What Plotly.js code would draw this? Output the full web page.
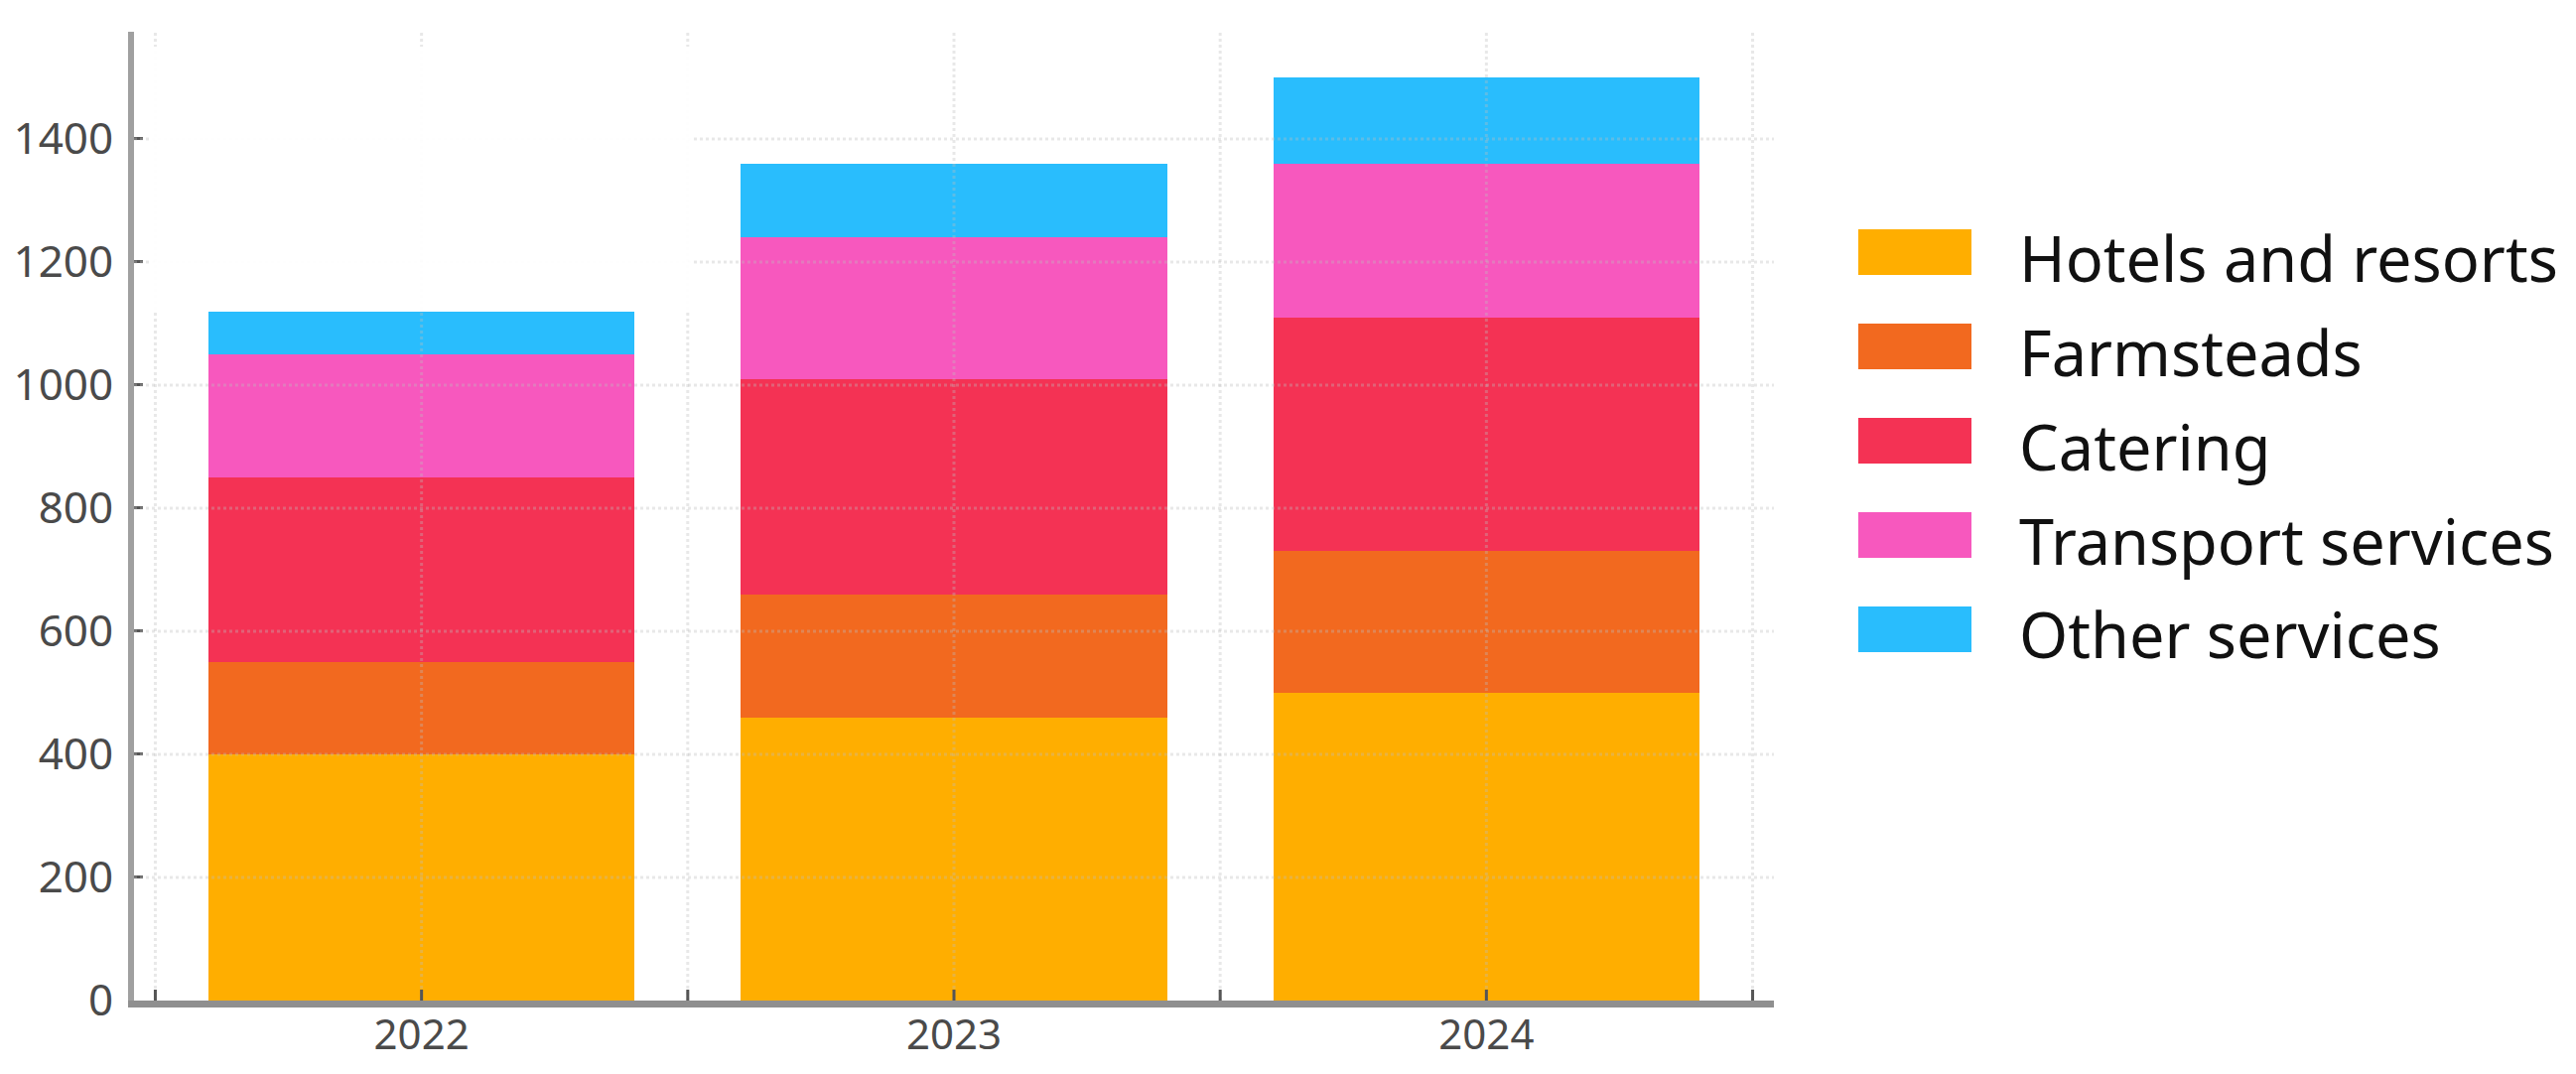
<!DOCTYPE html>
<html>
<head>
<meta charset="utf-8">
<script src="https://cdn.plot.ly/plotly-3.0.1.min.js"></script>
<style>
html,body{margin:0;padding:0;background:#fff;}
#chart{width:2595px;height:1082px;}
</style>
</head>
<body>
<div id="chart"></div>
<script>
// ---- data ----
const years = ['2022', '2023', '2024'];
const seriesNames = ['Hotels and resorts', 'Farmsteads', 'Catering', 'Transport services', 'Other services'];
const hotels = [400, 460, 500];
const farmsteads = [150, 200, 230];
const catering = [300, 350, 380];
const transport = [200, 230, 250];
const other = [70, 120, 140];
const seriesColors = ['#FFAE00', '#F2691F', '#F43254', '#F758BE', '#29BDFD'];
const yTicks = [0, 200, 400, 600, 800, 1000, 1200, 1400];

const seriesValues = [hotels, farmsteads, catering, transport, other];

// ---- geometry (pixels) ----
const W = 2595, H = 1082;
const L = 135, R = 1787, T = 32, B = 1008;
const pw = R - L, ph = B - T;
const px2paperX = x => (x - L) / pw;
const px2paperY = y => (B - y) / ph;
const yMax = 1574;

const traces = seriesNames.map((name, i) => ({
  type: 'bar',
  name: name,
  x: years,
  y: seriesValues[i],
  marker: { color: seriesColors[i], line: { width: 0 } },
  showlegend: false,
  hoverinfo: 'x+y+name'
}));

const gridLine = { color: 'rgba(190,190,190,0.35)', width: 3, dash: 'dot' };
const shapes = [];
const annotations = [];

// grid lines (drawn over the bars, as in the reference)
yTicks.filter(v => v > 0).forEach(v => {
  shapes.push({ type: 'line', xref: 'paper', yref: 'y', layer: 'above',
    x0: 0, x1: 1, y0: v, y1: v, line: gridLine });
});
const xGridPos = [];
for (let k = -1; k < 2 * years.length; k++) xGridPos.push(k / 2);
xGridPos.forEach(p => {
  shapes.push({ type: 'line', xref: 'x', yref: 'paper', layer: 'above',
    x0: p, x1: p, y0: 0, y1: 1, line: gridLine });
  // inside tick marks on the x axis
  shapes.push({ type: 'line', xref: 'x', yref: 'paper', layer: 'above',
    x0: p, x1: p, y0: 0, y1: 11 / ph, line: { color: '#555', width: 3 } });
});

// white patch seen in the reference over the upper-left part of the plot
shapes.push({
  type: 'rect', xref: 'x', yref: 'y', layer: 'above',
  x0: -0.51, x1: 0.51,
  y0: other[0] + transport[0] + catering[0] + farmsteads[0] + hotels[0], y1: 1550,
  fillcolor: 'rgba(255,255,255,0.92)', line: { width: 0 }
});

// custom legend with large swatches
const legY = [254, 349, 444, 539, 634];
seriesNames.forEach((name, i) => {
  shapes.push({
    type: 'rect', xref: 'paper', yref: 'paper', layer: 'above',
    x0: px2paperX(1872), x1: px2paperX(1986),
    y0: px2paperY(legY[i] + 23), y1: px2paperY(legY[i] - 23),
    fillcolor: seriesColors[i], line: { width: 0 }
  });
  annotations.push({
    xref: 'paper', yref: 'paper', x: px2paperX(2032), y: px2paperY(legY[i] + 5),
    xanchor: 'left', yanchor: 'middle', showarrow: false,
    text: name, font: { family: 'Noto Sans', size: 63, color: '#111' }
  });
});

const layout = {
  width: W, height: H,
  margin: { l: L, r: W - R, t: T, b: H - B, pad: 0 },
  paper_bgcolor: '#fff', plot_bgcolor: '#fff',
  barmode: 'stack', bargap: 0.2,
  showlegend: false,
  font: { family: 'Noto Sans', color: '#4a4a4a' },
  xaxis: {
    type: 'category', range: [-0.54, 2.54],
    showgrid: false, zeroline: false,
    showline: true, linecolor: '#8f8f8f', linewidth: 7,
    ticks: '', tickfont: { family: 'Noto Sans', size: 42, color: '#4a4a4a' },
    ticklabelstandoff: -8
  },
  yaxis: {
    range: [0, yMax], tickvals: yTicks,
    showgrid: false, zeroline: false,
    showline: true, linecolor: '#a0a0a0', linewidth: 6,
    ticks: 'inside', ticklen: 9, tickwidth: 3, tickcolor: '#555',
    tickfont: { family: 'Noto Sans', size: 44, color: '#4a4a4a' },
    ticklabelstandoff: 6
  },
  shapes: shapes,
  annotations: annotations
};

Plotly.newPlot('chart', traces, layout, { displayModeBar: false, staticPlot: true });
</script>
</body>
</html>
